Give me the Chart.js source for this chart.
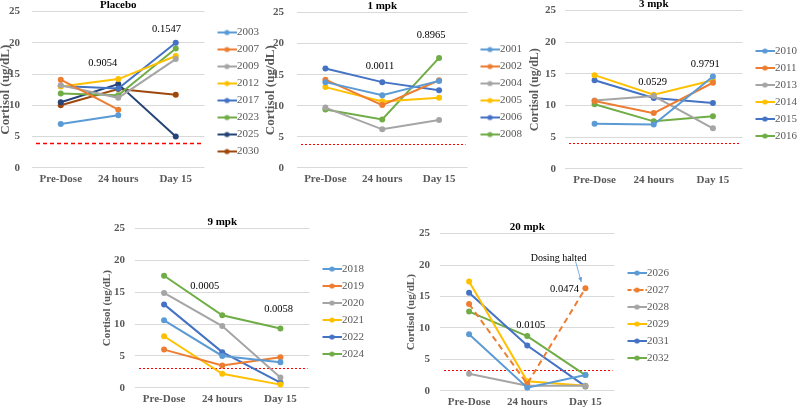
<!DOCTYPE html>
<html>
<head>
<meta charset="utf-8">
<script src="https://cdn.jsdelivr.net/npm/chart.js@4.4.1/dist/chart.umd.min.js"></script>
<style>
  body { margin: 0; background: #fff; width: 800px; height: 409px; overflow: hidden; position: relative; }
  canvas { position: absolute; }
</style>
</head>
<body>
<canvas id="placebo" width="270" height="198" style="left:-1px;top:-7px"></canvas>
<canvas id="mpk1" width="268" height="198" style="left:264px;top:-7px"></canvas>
<canvas id="mpk3" width="278" height="197" style="left:529px;top:-5px"></canvas>
<canvas id="mpk9" width="272" height="199" style="left:102px;top:212px"></canvas>
<canvas id="mpk20" width="273" height="197" style="left:406px;top:217px"></canvas>
<script>
var times = ['Pre-Dose', '24 hours', 'Day 15'];
var colors = ['#5B9BD5', '#ED7D31', '#A5A5A5', '#FFC000', '#4472C4', '#70AD47', '#264478', '#9E480E'];

// placebo
var placeboIds = ['2003', '2007', '2009', '2012', '2017', '2023', '2025', '2030'];
var placeboVals = [
  [7.0, 8.4, null],
  [14.1, 9.3, null],
  [13.2, 11.2, 17.4],
  [13.0, 14.2, 17.9],
  [13.1, 12.7, 20.0],
  [11.9, 11.6, 19.1],
  [10.5, 13.4, 5.0],
  [10.0, 12.6, 11.7]
];
var placeboNotes = [['0.9054', 0.73, 16.8], ['0.1547', 1.84, 22.2]];

// 1 mpk
var mpk1Ids = ['2001', '2002', '2004', '2005', '2006', '2008'];
var mpk1Vals = [
  [13.8, 11.7, 14.0],
  [14.2, 10.1, 14.1],
  [9.7, 6.2, 7.7],
  [13.0, 10.7, 11.3],
  [16.0, 13.8, 12.5],
  [9.4, 7.8, 17.7]
];
var mpk1Notes = [['0.0011', 0.96, 16.4], ['0.8965', 1.86, 21.3]];

// 3 mpk
var mpk3Ids = ['2010', '2011', '2013', '2014', '2015', '2016'];
var mpk3Vals = [
  [7.1, 7.0, 14.6],
  [10.7, 8.8, 13.6],
  [10.8, 11.5, 6.4],
  [14.8, 11.7, 14.0],
  [14.0, 11.2, 10.4],
  [10.2, 7.5, 8.3]
];
var mpk3Notes = [['0.0529', 0.98, 13.7], ['0.9791', 1.87, 16.5]];

// 9 mpk
var mpk9Ids = ['2018', '2019', '2020', '2021', '2022', '2024'];
var mpk9Vals = [
  [10.6, 5.0, 4.0],
  [6.0, 3.5, 4.8],
  [14.9, 9.7, 1.6],
  [8.1, 2.2, 0.5],
  [13.1, 5.6, 0.8],
  [17.6, 11.4, 9.3]
];
var mpk9Notes = [['0.0005', 0.70, 16.0], ['0.0058', 1.97, 12.3]];

// 20 mpk
var mpk20Ids = ['2026', '2027', '2028', '2029', '2031', '2032'];
var mpk20Vals = [
  [9.0, 0.5, 2.5],
  [13.8, 1.1, 16.3],
  [2.7, 0.8, 0.8],
  [17.4, 1.5, 0.8],
  [15.6, 7.2, 0.7],
  [12.6, 8.7, 2.5]
];
var mpk20Notes = [['0.0105', 1.06, 10.5], ['0.0474', 1.64, 16.1], ['Dosing halted', 1.54, 21.0]];

var limits = { placebo: 3.9, mpk1: 3.9, mpk3: 4.0, mpk9: 3.1, mpk20: 3.3 };

Chart.defaults.font.family = "'Liberation Serif', 'Times New Roman', serif";
Chart.defaults.animation = false;

// legend sample: short line with a dot, wider than the legend box so it reaches the text
function legendMark(color, dash) {
  var c = document.createElement('canvas');
  c.width = 31; c.height = 8;
  var g = c.getContext('2d');
  g.strokeStyle = color;
  g.lineWidth = 2;
  if (dash) g.setLineDash([4, 2]);
  g.beginPath(); g.moveTo(12, 4); g.lineTo(31, 4); g.stroke();
  g.fillStyle = color;
  g.beginPath(); g.arc(21.5, 4, 2.6, 0, Math.PI * 2); g.fill();
  return c;
}

var extras = {
  id: 'extras',
  beforeDatasetsDraw: function(chart, args, opts) {
    var ctx = chart.ctx, a = chart.chartArea;
    var ty = Math.round(chart.scales.y.getPixelForValue(opts.limit)) + 0.5;
    ctx.save();
    ctx.strokeStyle = '#FF0000';
    ctx.lineWidth = opts.thick ? 1.5 : 1;
    ctx.setLineDash(opts.thick ? [4, 3] : [2, 2]);
    ctx.beginPath(); ctx.moveTo(a.left + 4, ty); ctx.lineTo(a.right - 2, ty); ctx.stroke();
    ctx.restore();
  },
  afterDatasetsDraw: function(chart, args, opts) {
    var ctx = chart.ctx, x = chart.scales.x, y = chart.scales.y;
    ctx.save();
    ctx.fillStyle = '#000';
    ctx.textAlign = 'center';
    ctx.textBaseline = 'middle';
    opts.notes.forEach(function(n) {
      ctx.font = (n[0] === 'Dosing halted' ? '10px' : '10.5px') + " 'Liberation Serif'";
      ctx.fillText(n[0], x.getPixelForValue(n[1]), y.getPixelForValue(n[2]));
    });
    if (opts.arrow) {
      var x1 = x.getPixelForValue(1.83), y1 = y.getPixelForValue(20.6);
      var x2 = x.getPixelForValue(1.93), y2 = y.getPixelForValue(17.3);
      var ang = Math.atan2(y2 - y1, x2 - x1);
      ctx.strokeStyle = '#5B9BD5';
      ctx.fillStyle = '#5B9BD5';
      ctx.lineWidth = 0.8;
      ctx.beginPath(); ctx.moveTo(x1, y1); ctx.lineTo(x2, y2); ctx.stroke();
      ctx.beginPath();
      ctx.moveTo(x2, y2);
      ctx.lineTo(x2 - 5 * Math.cos(ang - 0.4), y2 - 5 * Math.sin(ang - 0.4));
      ctx.lineTo(x2 - 5 * Math.cos(ang + 0.4), y2 - 5 * Math.sin(ang + 0.4));
      ctx.closePath(); ctx.fill();
    }
    ctx.restore();
  }
};

function makeChart(id, title, ids, vals, notes, opts) {
  var datasets = ids.map(function(name, i) {
    return {
      label: name,
      data: vals[i],
      borderColor: colors[i],
      backgroundColor: colors[i],
      borderWidth: 2,
      borderDash: opts.dashed === i ? [6, 4] : [],
      pointRadius: 3,
      pointBorderWidth: 0,
      tension: 0
    };
  });
  var tickFont = { size: 11, weight: 'bold' };
  return new Chart(document.getElementById(id), {
    type: 'line',
    data: { labels: times, datasets: datasets },
    options: {
      responsive: false,
      plugins: {
        title: {
          display: true, text: title, color: '#000', fullSize: false,
          font: { size: 11, weight: 'bold' },
          padding: { top: 0, bottom: 0 }
        },
        legend: {
          position: 'right',
          labels: {
            usePointStyle: true,
            pointStyleWidth: 21,
            padding: 6,
            color: '#595959',
            font: { size: 11 },
            generateLabels: function(chart) {
              var items = Chart.defaults.plugins.legend.labels.generateLabels(chart);
              items.forEach(function(it) {
                var ds = chart.data.datasets[it.datasetIndex];
                it.pointStyle = legendMark(ds.borderColor, ds.borderDash.length > 0);
              });
              return items;
            }
          }
        },
        tooltip: { enabled: false },
        extras: { limit: opts.limit, thick: opts.thick, notes: notes, arrow: opts.arrow }
      },
      scales: {
        x: {
          offset: true,
          grid: { display: false, drawTicks: false },
          border: { display: false },
          ticks: { color: '#595959', font: tickFont, padding: 5 }
        },
        y: {
          min: 0, max: 25,
          grid: { color: '#D9D9D9', drawTicks: false },
          border: { display: false },
          ticks: { stepSize: 5, color: '#595959', font: tickFont, padding: opts.pad },
          title: {
            display: true, text: 'Cortisol (ug/dL)', color: '#595959',
            font: { size: opts.ysize, weight: 'bold', lineHeight: 1 },
            padding: { top: 0, bottom: opts.gap }
          }
        }
      }
    },
    plugins: [extras]
  });
}

makeChart('placebo', 'Placebo', placeboIds, placeboVals, placeboNotes,
  { limit: limits.placebo, thick: true, pad: 12, ysize: 13, gap: -15 });
makeChart('mpk1', '1 mpk', mpk1Ids, mpk1Vals, mpk1Notes,
  { limit: limits.mpk1, pad: 13, ysize: 13, gap: -17 });
makeChart('mpk3', '3 mpk', mpk3Ids, mpk3Vals, mpk3Notes,
  { limit: limits.mpk3, pad: 9, ysize: 12, gap: -5 });
makeChart('mpk9', '9 mpk', mpk9Ids, mpk9Vals, mpk9Notes,
  { limit: limits.mpk9, pad: 10, ysize: 11, gap: -9 });
makeChart('mpk20', '20 mpk', mpk20Ids, mpk20Vals, mpk20Notes,
  { limit: limits.mpk20, dashed: 1, arrow: true, pad: 10, ysize: 11, gap: -8 });
</script>
</body>
</html>
